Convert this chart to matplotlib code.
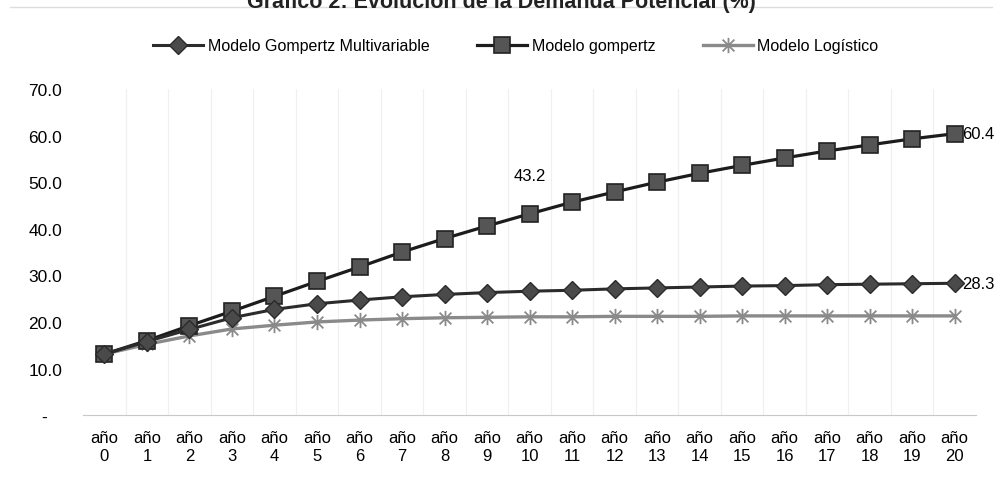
import numpy as np
import matplotlib.pyplot as plt
from matplotlib.path import Path

plt.rcParams['font.family'] = ['Liberation Sans', 'DejaVu Sans']

# data
years = list(range(21))
labels = ['año\n%d' % y for y in years]

gompertz_multi = [13.1, 15.8, 18.4, 20.9, 22.7, 23.9, 24.7, 25.4, 25.9, 26.3, 26.6,
                  26.8, 27.1, 27.3, 27.5, 27.7, 27.8, 28.0, 28.1, 28.2, 28.3]
gompertz = [13.1, 16.0, 19.2, 22.3, 25.5, 28.7, 31.8, 35.0, 37.9, 40.6, 43.2,
            45.7, 47.9, 50.0, 51.9, 53.6, 55.2, 56.7, 58.0, 59.3, 60.4]
logistico = [13.1, 15.2, 17.0, 18.5, 19.3, 20.0, 20.4, 20.7, 20.9, 21.0, 21.1,
             21.1, 21.2, 21.2, 21.2, 21.3, 21.3, 21.3, 21.3, 21.3, 21.3]

yticks = [0, 10, 20, 30, 40, 50, 60, 70]

# excel style star: an X with a vertical bar
star = Path([(-1, -1), (1, 1), (-1, 1), (1, -1), (0, -1.3), (0, 1.3)],
            [Path.MOVETO, Path.LINETO, Path.MOVETO, Path.LINETO, Path.MOVETO, Path.LINETO])

fig = plt.figure(figsize=(10.02, 4.89), dpi=100)
ax = fig.add_axes([0.083, 0.149, 0.891, 0.667])

x = np.arange(len(years))
ax.plot(x, gompertz_multi, color='#2b2b2b', lw=2.2, marker='D', ms=9.5,
        mfc='#4a4a4a', mec='#2b2b2b', label='Modelo Gompertz Multivariable', zorder=4)
ax.plot(x, gompertz, color='#1c1c1c', lw=2.3, marker='s', ms=11.5,
        mfc='#555555', mec='#222222', mew=1.2, label='Modelo gompertz', zorder=3)
ax.plot(x, logistico, color='#8a8a8a', lw=2.4, marker=star, ms=11, mew=1.3,
        mec='#8a8a8a', label='Modelo Logístico', zorder=2)

# data labels
ax.annotate('%.1f' % gompertz[10], (10, gompertz[10]), xytext=(0, 22),
            textcoords='offset points', ha='center', va='bottom', fontsize=12)
ax.annotate('%.1f' % gompertz[-1], (20, gompertz[-1]), xytext=(5, 0),
            textcoords='offset points', ha='left', va='center', fontsize=12)
ax.annotate('%.1f' % gompertz_multi[-1], (20, gompertz_multi[-1]), xytext=(5, 0),
            textcoords='offset points', ha='left', va='center', fontsize=12)

ax.set_xlim(-0.5, 20.5)
ax.set_ylim(0, 70)
ax.set_xticks(x)
ax.set_xticklabels(labels, fontsize=12, linespacing=1.2)
ax.set_yticks(yticks)
ax.set_yticklabels(['-   '] + ['%.1f' % v for v in yticks[1:]], fontsize=12.5)
ax.tick_params(axis='y', length=0, pad=15)
ax.tick_params(axis='x', length=0, pad=11)

# faint category gridlines
for b in np.arange(0.5, 20, 1):
    ax.axvline(b, color='#f0f0f0', lw=0.9, zorder=0)

for s in ['top', 'right', 'left']:
    ax.spines[s].set_visible(False)
ax.spines['bottom'].set_color('#c8c8c8')

fig.legend(loc='center', bbox_to_anchor=(0.515, 1 - 47 / 489), ncol=3, frameon=False,
           fontsize=11.5, handlelength=3.1, columnspacing=3.0, handletextpad=0.3)

fig.text(0.5, 1 - 8 / 489, 'Gráfico 2: Evolución de la Demanda Potencial (%)',
         ha='center', va='baseline', fontsize=15.5, fontweight='bold', color='#222222')
fig.add_artist(plt.Line2D([0.01, 0.99], [1 - 8 / 489, 1 - 8 / 489], color='#dddddd', lw=1))

fig.savefig('out.png', dpi=100)
